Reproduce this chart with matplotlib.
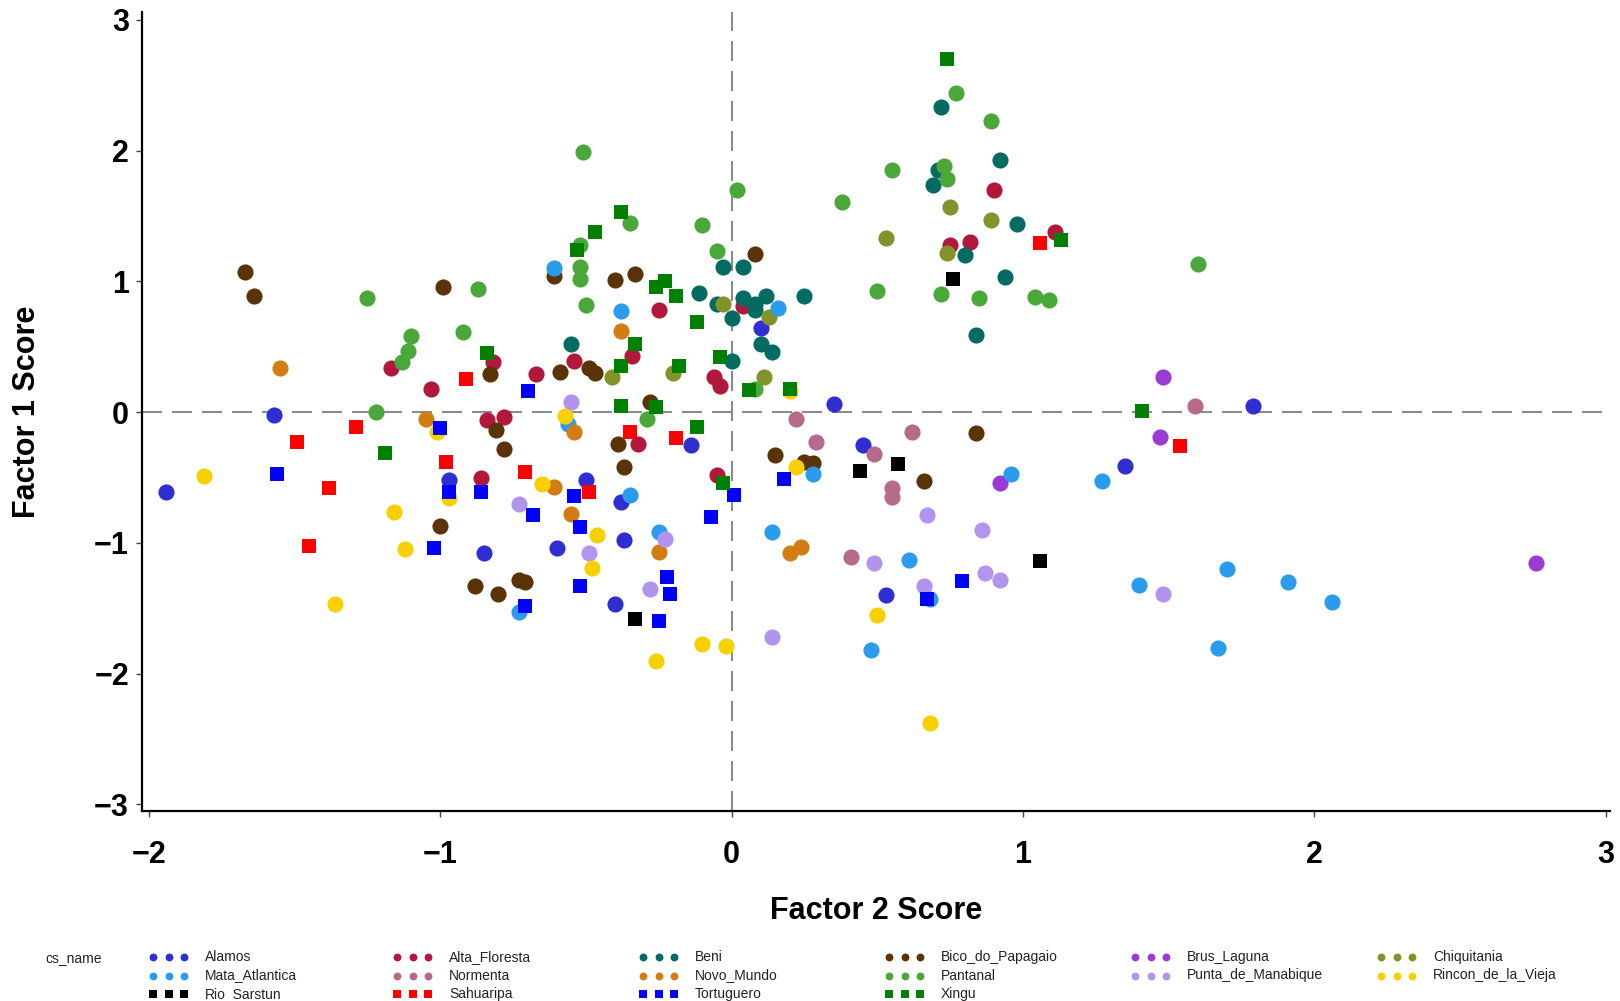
import matplotlib.pyplot as plt

# ---- data: Factor 2 score (x) / Factor 1 score (y) ----
alamos_x = [-1.94, -1.57, -0.97, -0.85, -0.60, -0.50, -0.38, -0.37, -0.40, -0.14, 0.10, 0.35, 0.45, 0.53, 1.35, 1.79]
alamos_y = [-0.61, -0.02, -0.52, -1.08, -1.04, -0.52, -0.69, -0.98, -1.47, -0.25, 0.64, 0.06, -0.25, -1.40, -0.41, 0.05]

alta_floresta_x = [0.90, 1.11, 0.75, 0.82, 0.04, -0.25, -0.34, -0.82, -0.67, -0.54, -1.17, -1.03, -0.06, -0.04, -0.84, -0.78, -0.32, -0.86, -0.05]
alta_floresta_y = [1.70, 1.38, 1.28, 1.30, 0.81, 0.78, 0.43, 0.38, 0.29, 0.39, 0.34, 0.18, 0.27, 0.20, -0.06, -0.04, -0.24, -0.50, -0.48]

beni_x = [0.72, 0.92, 0.71, 0.69, 0.98, 0.80, 0.94, 0.84, 0.25, -0.03, 0.04, -0.11, -0.05, 0.04, 0.08, 0.12, 0.08, 0.00, 0.10, 0.14, -0.55, 0.00]
beni_y = [2.33, 1.93, 1.85, 1.74, 1.44, 1.20, 1.03, 0.59, 0.89, 1.11, 1.11, 0.91, 0.83, 0.87, 0.83, 0.89, 0.78, 0.72, 0.52, 0.46, 0.52, 0.39]

bico_x = [-1.67, -1.64, -0.99, -0.83, -0.61, -0.40, -0.33, 0.08, -0.59, -0.49, -0.47, -0.28, -0.81, -0.78, -0.39, -0.37,
          -1.00, -0.88, -0.80, -0.73, -0.71, 0.15, 0.25, 0.28, 0.84, 0.66]
bico_y = [1.07, 0.89, 0.96, 0.29, 1.04, 1.01, 1.06, 1.21, 0.31, 0.34, 0.30, 0.08, -0.14, -0.28, -0.24, -0.42,
          -0.87, -1.33, -1.39, -1.28, -1.30, -0.33, -0.38, -0.39, -0.16, -0.53]

brus_x = [1.48, 1.47, 0.92, 2.76]
brus_y = [0.27, -0.19, -0.54, -1.15]

chiquitania_x = [0.75, 0.89, 0.53, 0.74, -0.03, 0.13, -0.41, -0.20, 0.11]
chiquitania_y = [1.57, 1.47, 1.33, 1.22, 0.83, 0.73, 0.27, 0.30, 0.27]

mata_x = [-0.61, -0.38, 0.16, -0.56, -0.35, -0.25, -0.73, 0.28, 0.14, 0.61, 0.68, 0.48, 0.96, 1.27, 1.40, 1.70, 1.91, 2.06, 1.67]
mata_y = [1.10, 0.77, 0.80, -0.09, -0.63, -0.92, -1.53, -0.47, -0.92, -1.13, -1.43, -1.82, -0.47, -0.53, -1.32, -1.20, -1.30, -1.45, -1.80]

normenta_x = [0.22, 0.29, 0.62, 0.49, 0.55, 0.55, 0.41, 1.59]
normenta_y = [-0.05, -0.23, -0.15, -0.32, -0.58, -0.65, -1.11, 0.05]

novo_mundo_x = [-1.55, -0.38, -1.05, -0.54, -0.61, -0.55, -0.25, 0.20, 0.24]
novo_mundo_y = [0.34, 0.62, -0.05, -0.15, -0.57, -0.78, -1.07, -1.08, -1.03]

pantanal_x = [0.77, 0.89, 0.55, 0.73, 0.74, 0.38, 0.02, 0.50, 0.72, 0.85, 1.04, 1.09, 1.60, -0.51, -0.35,
              -0.10, -0.52, -0.05, -0.52, -0.52, -0.50, -0.87, -1.25, -1.10, -1.11, -1.13, -0.92, -1.22, -0.29, 0.08]
pantanal_y = [2.44, 2.23, 1.85, 1.88, 1.78, 1.61, 1.70, 0.93, 0.90, 0.87, 0.88, 0.86, 1.13, 1.99, 1.45,
              1.43, 1.28, 1.23, 1.11, 1.02, 0.82, 0.94, 0.87, 0.58, 0.47, 0.38, 0.61, 0.00, -0.05, 0.18]

punta_x = [-0.55, -0.73, -0.23, -0.49, -0.28, 0.14, 0.67, 0.86, 0.49, 0.87, 0.92, 0.66, 1.48]
punta_y = [0.08, -0.70, -0.97, -1.08, -1.35, -1.72, -0.79, -0.90, -1.15, -1.23, -1.28, -1.33, -1.39]

rincon_x = [-1.81, -1.01, -0.97, -1.16, -1.12, -1.36, -0.65, -0.57, -0.46, -0.48, -0.26, -0.10, -0.02, 0.22, 0.20, 0.50, 0.68]
rincon_y = [-0.49, -0.15, -0.66, -0.76, -1.05, -1.47, -0.55, -0.03, -0.94, -1.19, -1.90, -1.77, -1.79, -0.42, 0.16, -1.55, -2.38]

rio_sarstun_x = [0.76, 0.44, 0.57, 1.06, -0.33]
rio_sarstun_y = [1.02, -0.45, -0.40, -1.14, -1.58]

sahuaripa_x = [1.06, -0.91, -1.29, -1.49, -0.98, -0.71, -1.38, -1.45, -0.35, -0.19, -0.49, 1.54]
sahuaripa_y = [1.29, 0.25, -0.11, -0.23, -0.38, -0.46, -0.58, -1.02, -0.15, -0.20, -0.61, -0.26]

tortuguero_x = [-0.70, -1.00, -1.56, -0.97, -0.86, -0.68, -1.02, -0.71, -0.54, -0.52, -0.52, -0.22, -0.21, -0.25, 0.01, -0.07, 0.18, 0.79, 0.67]
tortuguero_y = [0.16, -0.12, -0.47, -0.61, -0.61, -0.79, -1.04, -1.48, -0.64, -0.88, -1.33, -1.26, -1.39, -1.60, -0.63, -0.80, -0.51, -1.29, -1.43]

xingu_x = [0.74, 1.13, -0.38, -0.47, -0.53, -0.26, -0.23, -0.19, -0.12, -0.33, -0.84, -0.38, -0.18, -0.04, 0.06, 0.20, -0.38, -0.26, -0.12, -0.03, -1.19, 1.41]
xingu_y = [2.70, 1.32, 1.53, 1.38, 1.24, 0.96, 1.00, 0.89, 0.69, 0.52, 0.45, 0.35, 0.35, 0.42, 0.17, 0.18, 0.05, 0.04, -0.11, -0.54, -0.31, 0.01]

x_ticks = [-2, -1, 0, 1, 2, 3]
x_tick_labels = ["\u22122", "\u22121", "0", "1", "2", "3"]
y_ticks = [-3, -2, -1, 0, 1, 2, 3]
y_tick_labels = ["\u22123", "\u22122", "\u22121", "0", "1", "2", "3"]

# name, x, y, colour, marker  (draw order = legend order)
series = [
    ("Alamos", alamos_x, alamos_y, "#2e2ed2", "o"),
    ("Alta_Floresta", alta_floresta_x, alta_floresta_y, "#b3173b", "o"),
    ("Beni", beni_x, beni_y, "#046b62", "o"),
    ("Bico_do_Papagaio", bico_x, bico_y, "#5b3308", "o"),
    ("Brus_Laguna", brus_x, brus_y, "#9b3bd6", "o"),
    ("Chiquitania", chiquitania_x, chiquitania_y, "#84922c", "o"),
    ("Mata_Atlantica", mata_x, mata_y, "#2b9bee", "o"),
    ("Normenta", normenta_x, normenta_y, "#b76a8c", "o"),
    ("Novo_Mundo", novo_mundo_x, novo_mundo_y, "#d27c12", "o"),
    ("Pantanal", pantanal_x, pantanal_y, "#4aa83a", "o"),
    ("Punta_de_Manabique", punta_x, punta_y, "#b294ee", "o"),
    ("Rincon_de_la_Vieja", rincon_x, rincon_y, "#f7d000", "o"),
    ("Rio_Sarstun", rio_sarstun_x, rio_sarstun_y, "#000000", "s"),
    ("Sahuaripa", sahuaripa_x, sahuaripa_y, "#ff0000", "s"),
    ("Tortuguero", tortuguero_x, tortuguero_y, "#0000ff", "s"),
    ("Xingu", xingu_x, xingu_y, "#008000", "s"),
]

plt.rcParams["font.family"] = ["Liberation Sans", "DejaVu Sans"]

W, H = 1620, 1001
fig = plt.figure(figsize=(W / 100, H / 100), dpi=100)
ax = fig.add_axes([141.5 / W, 1 - 811 / H, (1610 - 141.5) / W, (811 - 12) / H])

# reference lines
ax.axhline(0, color="#8c8c8c", lw=1.5, dashes=(9.6, 4.8), zorder=1)
ax.axvline(0, color="#8c8c8c", lw=1.5, dashes=(9.6, 4.8), zorder=1)

for name, xs, ys, col, mk in series:
    size = 135 if mk == "o" else 100
    ax.scatter(xs, ys, s=size, c=col, marker=mk, linewidths=0, zorder=2)

ax.set_xlim(-2.025, 3.015)
ax.set_ylim(-3.05, 3.06)
ax.spines["top"].set_visible(False)
ax.spines["right"].set_visible(False)
ax.spines["left"].set_linewidth(1.6)
ax.spines["bottom"].set_linewidth(1.6)
ax.set_xticks(x_ticks)
ax.set_xticklabels(x_tick_labels, fontsize=22, fontweight="bold")
ax.set_yticks(y_ticks)
ax.set_yticklabels(y_tick_labels, fontsize=22, fontweight="bold")
ax.tick_params(axis="both", length=4, width=1.0, color="#444444")
ax.tick_params(axis="x", pad=17)
ax.tick_params(axis="y", pad=5)

fig.text(876 / W, 1 - 911 / H, "Factor 2 Score", fontsize=22, fontweight="bold",
         ha="center", va="center")
fig.text(27 / W, 1 - 412 / H, "Factor 1 Score", fontsize=22, fontweight="bold",
         ha="center", va="center", rotation=90)

# legend drawn in pixel space, Stata style (3 markers per key, 6 columns)
lg = fig.add_axes([0, 0, 1, 1], zorder=-1)
lg.set_xlim(0, W)
lg.set_ylim(H, 0)
lg.axis("off")
lg.text(45, 958, "cs_name", fontsize=10, va="center", ha="left", color="#222222")
col_x = [153, 397, 643, 889, 1135, 1381]
row_y = [957, 975.5, 994]
for i, (name, xs, ys, col, mk) in enumerate(series):
    cx = col_x[i % 6]
    cy = row_y[i // 6]
    lg.scatter([cx, cx + 15.5, cx + 31], [cy] * 3, s=32 if mk == "o" else 40,
               c=col, marker=mk, linewidths=0)
    lg.text(cx + 52, cy, name, fontsize=10, va="center", ha="left", color="#222222")

fig.savefig("out.png", dpi=100)
